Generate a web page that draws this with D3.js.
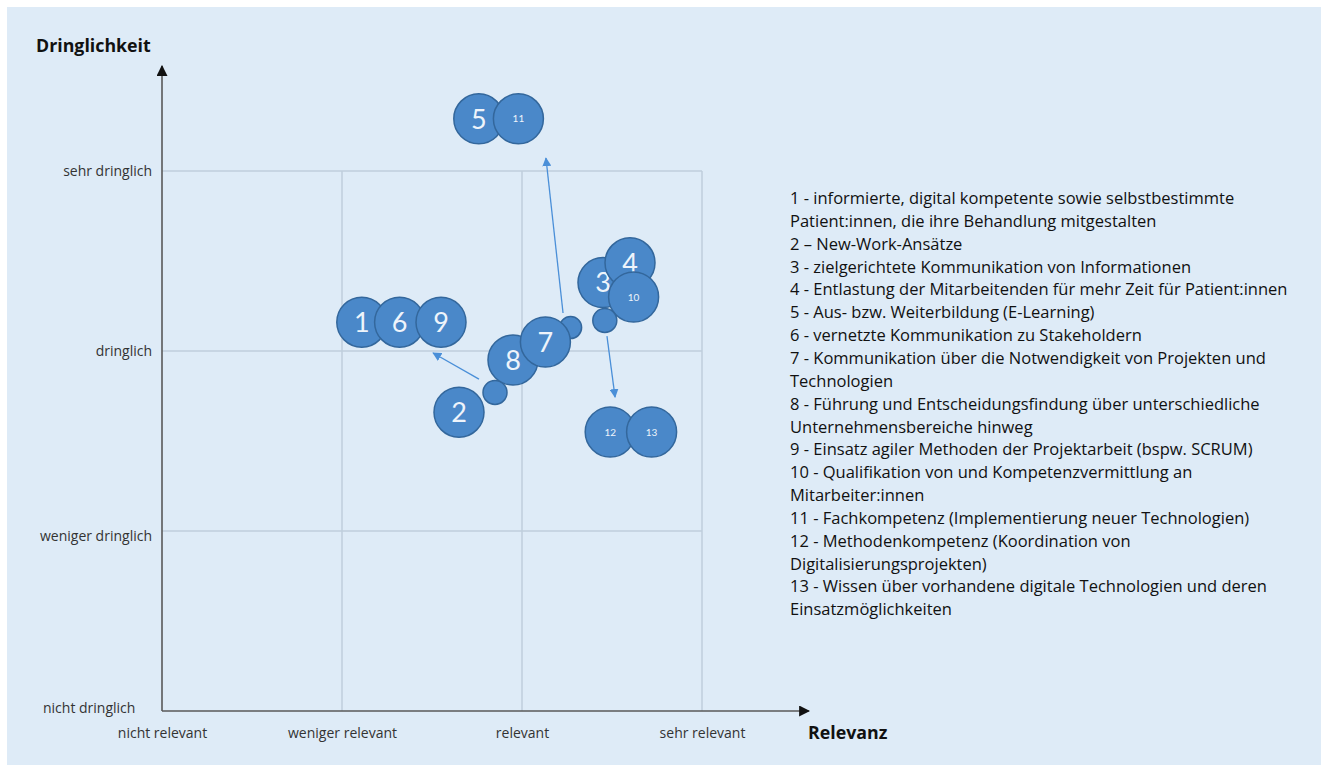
<!DOCTYPE html>
<html lang="de">
<head>
<meta charset="UTF-8">
<title>Dringlichkeit / Relevanz</title>
<script src="https://d3js.org/d3.v7.min.js"></script>
<style>
  body { margin: 0; background: #fff; }
  svg text { font-family: "Open Sans", Lato, sans-serif; }
  .grid line { stroke: #bfcedc; stroke-width: 1.5px; }
  .bubble { fill: #4a88c9; stroke: #33679c; stroke-width: 1.5px; }
  .num { fill: #eef4fb; text-anchor: middle; }
  .arrow { stroke: #4a8fd8; stroke-width: 1.3px; fill: none; }
</style>
</head>
<body>
<svg width="1321" height="765"></svg>
<script>
// Achsenbeschriftungen
const xTicks = ["nicht relevant", "weniger relevant", "relevant", "sehr relevant"];
const yTicks = ["nicht dringlich", "weniger dringlich", "dringlich", "sehr dringlich"];

// Blasen (Relevanz 0..3, Dringlichkeit 0..3)
const bubbleIds  = ["1", "6", "9", "5", "11", "3", "4", "10", "", "", "", "8", "7", "2", "12", "13"];
const relevanz   = [1.11, 1.32, 1.55, 1.76, 1.98, 2.45, 2.60, 2.62, 2.46, 2.27, 1.85, 1.95, 2.13, 1.65, 2.49, 2.72];
const dringlich  = [2.16, 2.16, 2.16, 3.29, 3.29, 2.38, 2.49, 2.30, 2.17, 2.13, 1.77, 1.95, 2.05, 1.66, 1.55, 1.55];
const bubbleSize = [25, 25, 25, 25, 25, 25, 25, 25, 12, 11, 12, 25, 25, 25, 25, 25];

// Pfeile: Start- und Zielpunkt
const arrowFrom = [[2.228, 2.211], [1.761, 1.844], [2.472, 2.083]];
const arrowTo   = [[2.133, 3.072], [1.506, 1.989], [2.517, 1.744]];

const legendLines = [
  "1 - informierte, digital kompetente sowie selbstbestimmte",
  "Patient:innen, die ihre Behandlung mitgestalten",
  "2 \u2013 New-Work-Ansätze",
  "3 - zielgerichtete Kommunikation von Informationen",
  "4 - Entlastung der Mitarbeitenden für mehr Zeit für Patient:innen",
  "5 - Aus- bzw. Weiterbildung (E-Learning)",
  "6 - vernetzte Kommunikation zu Stakeholdern",
  "7 - Kommunikation über die Notwendigkeit von Projekten und",
  "Technologien",
  "8 - Führung und Entscheidungsfindung über unterschiedliche",
  "Unternehmensbereiche hinweg",
  "9 - Einsatz agiler Methoden der Projektarbeit (bspw. SCRUM)",
  "10 - Qualifikation von und Kompetenzvermittlung an",
  "Mitarbeiter:innen",
  "11 - Fachkompetenz (Implementierung neuer Technologien)",
  "12 - Methodenkompetenz (Koordination von",
  "Digitalisierungsprojekten)",
  "13 - Wissen über vorhandene digitale Technologien und deren",
  "Einsatzmöglichkeiten"
];

const svg = d3.select("svg");

svg.append("rect").attr("x", 7).attr("y", 7).attr("width", 1314).attr("height", 758).attr("fill", "#deebf7");

const x = d3.scaleLinear().domain([0, 3]).range([162, 702]);
const y = d3.scaleLinear().domain([0, 3]).range([711, 171]);

// Raster
const grid = svg.append("g").attr("class", "grid");
grid.selectAll(".v").data([1, 2, 3]).enter().append("line")
  .attr("x1", d => x(d)).attr("x2", d => x(d)).attr("y1", y(0)).attr("y2", y(3));
grid.selectAll(".h").data([1, 2, 3]).enter().append("line")
  .attr("x1", x(0)).attr("x2", x(3)).attr("y1", d => y(d)).attr("y2", d => y(d));

// Achsen
svg.append("defs").selectAll("marker").data([["ax", "#111"], ["ar", "#4a8fd8"]]).enter()
  .append("marker")
  .attr("id", d => d[0])
  .attr("viewBox", "0 0 10 10").attr("refX", 9).attr("refY", 5)
  .attr("markerUnits", "userSpaceOnUse")
  .attr("markerWidth", d => d[0] == "ax" ? 11 : 9)
  .attr("markerHeight", d => d[0] == "ax" ? 11 : 9)
  .attr("orient", "auto")
  .append("path").attr("d", "M0,0 L10,5 L0,10 z").attr("fill", d => d[1]);

svg.append("line").attr("x1", x(0)).attr("y1", y(0)).attr("x2", 809).attr("y2", y(0))
  .attr("stroke", "#595959").attr("stroke-width", 1.6).attr("marker-end", "url(#ax)");
svg.append("line").attr("x1", x(0)).attr("y1", y(0)).attr("x2", x(0)).attr("y2", 66)
  .attr("stroke", "#595959").attr("stroke-width", 1.6).attr("marker-end", "url(#ax)");

const xAxis = d3.axisBottom(x).tickValues([0, 1, 2, 3]).tickFormat(d => xTicks[d]).tickSize(0).tickPadding(17);
const gx = svg.append("g").attr("transform", `translate(0,${y(0)})`).call(xAxis);
gx.select(".domain").remove();
gx.selectAll("text").attr("font-size", 14).attr("fill", "#333").style("font-family", "'Open Sans', sans-serif");

const yAxis = d3.axisLeft(y).tickValues([0, 1, 2, 3]).tickFormat(d => yTicks[d]).tickSize(0).tickPadding(10);
const gy = svg.append("g").attr("transform", `translate(${x(0)},0)`).call(yAxis);
gy.select(".domain").remove();
gy.selectAll("text").attr("font-size", 14).attr("fill", "#333").style("font-family", "'Open Sans', sans-serif");
gy.selectAll(".tick").filter(d => d === 0).select("text")
  .attr("text-anchor", "start").attr("x", 43 - 162).attr("dy", "0.1em");
gy.selectAll(".tick").filter(d => d === 1).select("text").attr("dy", "0.65em");

svg.append("text").attr("x", 36).attr("y", 52).attr("font-size", 17.8).attr("font-weight", "bold")
  .attr("fill", "#111").text("Dringlichkeit");
svg.append("text").attr("x", 808).attr("y", 739).attr("font-size", 17.8).attr("font-weight", "bold")
  .attr("fill", "#111").text("Relevanz");

// Pfeile
svg.selectAll(".arrow").data(arrowFrom).enter().append("line")
  .attr("class", "arrow")
  .attr("x1", d => x(d[0])).attr("y1", d => y(d[1]))
  .attr("x2", (d, i) => x(arrowTo[i][0])).attr("y2", (d, i) => y(arrowTo[i][1]))
  .attr("marker-end", "url(#ar)");

// Blasen
const b = svg.selectAll(".b").data(bubbleIds).enter().append("g")
  .attr("transform", (d, i) => `translate(${x(relevanz[i])},${y(dringlich[i])})`);
b.append("circle").attr("class", "bubble").attr("r", (d, i) => bubbleSize[i]);
b.append("text").attr("class", "num")
  .attr("font-size", d => d.length > 1 ? 10 : 27)
  .style("font-family", "Lato, sans-serif")
  .attr("font-weight", 400)
  .attr("dy", "0.36em")
  .text(d => d);

// Legende
svg.append("g").selectAll("text").data(legendLines).enter().append("text")
  .attr("x", 790).attr("y", (d, i) => 204 + i * 22.85)
  .attr("font-size", 16.5).attr("fill", "#111")
  .text(d => d);
</script>
</body>
</html>
